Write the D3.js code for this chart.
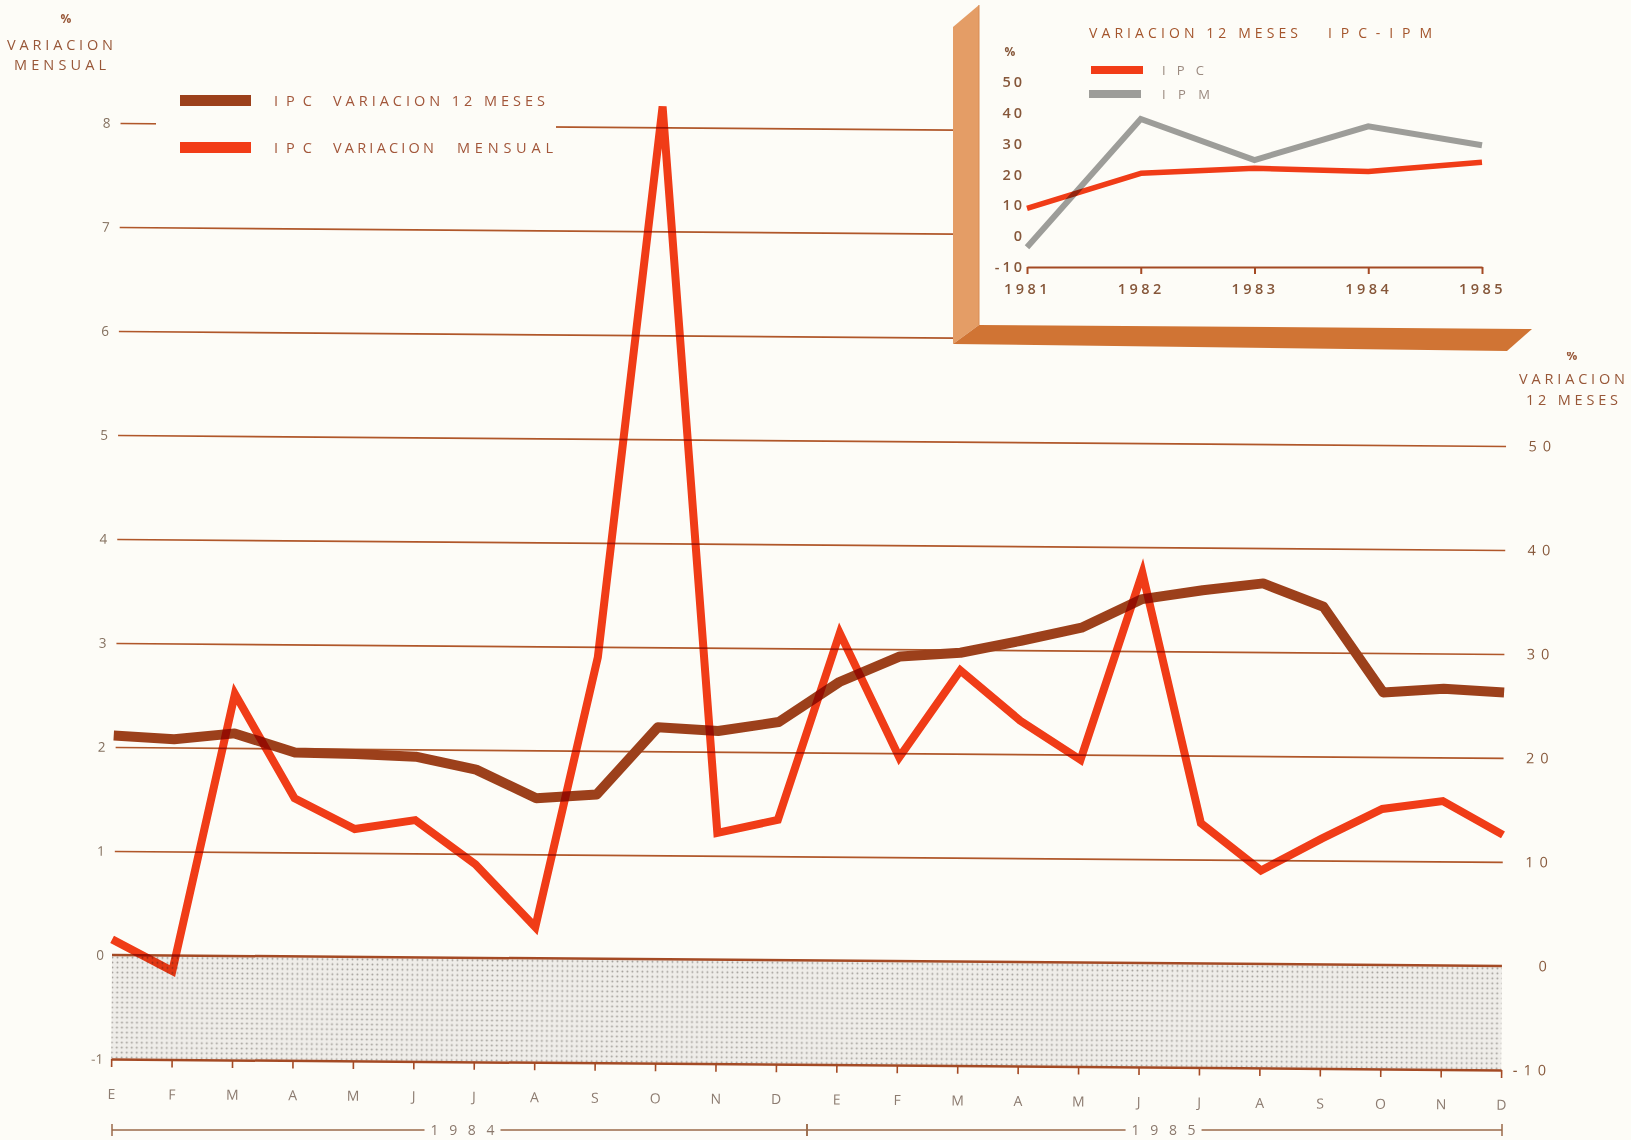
<!DOCTYPE html>
<html><head><meta charset="utf-8">
<script src="https://cdn.jsdelivr.net/npm/d3@7"></script>
<style>
body{margin:0;background:#fdfcf7}
svg{display:block}
text{font-family:"Open Sans",Lato,sans-serif}
</style></head>
<body><svg id="c" width="1631" height="1140"></svg>
<script>
// ---- data ----
const months = ["E","F","M","A","M","J","J","A","S","O","N","D","E","F","M","A","M","J","J","A","S","O","N","D"];
const yearLabels = ["1 9 8 4","1 9 8 5"];
const ipcMensual = [0.15,-0.15,2.52,1.52,1.23,1.32,0.9,0.3,2.9,8.2,1.22,1.35,3.15,1.96,2.8,2.32,1.95,3.75,1.35,0.9,1.21,1.5,1.58,1.26];
const ipc12Meses = [21.1,20.8,21.4,19.6,19.5,19.3,18.1,15.4,15.8,22.3,22.0,22.9,26.8,29.3,29.7,30.9,32.2,35.0,35.9,36.6,34.4,26.2,26.6,26.3];
const leftTicks = [-1,0,1,2,3,4,5,6,7,8];
const rightTicks = [-10,0,10,20,30,40,50];
const insetYears = [1981,1982,1983,1984,1985];
const insetIPC = [9,20.4,22,21,24];
const insetIPM = [-3.6,38,24.7,35.6,29.5];
const insetTicks = [-10,0,10,20,30,40,50];

const BG = "#fdfcf7";
const FONT = "Open Sans";
const RED = "#f23c17", BROWN = "#9c401b", GRID = "#b0572a", AXIS = "#a44a24";
const svg = d3.select("#c");
svg.append("rect").attr("width",1631).attr("height",1140).attr("fill",BG);

const defs = svg.append("defs");
const pat = defs.append("pattern").attr("id","dots").attr("width",5).attr("height",5).attr("patternUnits","userSpaceOnUse");
pat.append("rect").attr("width",5).attr("height",5).attr("fill","#efede9");
pat.append("circle").attr("cx",2.5).attr("cy",2.5).attr("r",0.95).attr("fill","#a19d98");

// ---- main chart ----
const x = d3.scaleLinear().domain([0,23]).range([112,1502]);
const y = d3.scaleLinear().domain([-1,8]).range([1059,123]);
const yR = d3.scaleLinear().domain([-10,80]).range([1059,123]);

const g = svg.append("g").attr("transform","rotate(0.45,112,955)");

g.append("rect").attr("x",x(0)).attr("y",y(0)).attr("width",x(23)-x(0)).attr("height",y(-1)-y(0)).attr("fill","url(#dots)");

const gl = g.append("g").attr("transform","translate(114,0)")
  .call(d3.axisLeft(y).tickValues(leftTicks).tickSize(-(1502-114)).tickPadding(10).tickFormat(d=>String(d)));
gl.select(".domain").remove();
gl.selectAll(".tick line").attr("stroke",GRID).attr("stroke-width",1.6).filter(d=>d<=0).remove();
gl.selectAll(".tick text").attr("fill","#84705f").attr("font-size",13.5).attr("font-family",FONT);

const gr = g.append("g").attr("transform","translate(1553,0)")
  .call(d3.axisRight(yR).tickValues(rightTicks).tickSize(0).tickPadding(0).tickFormat(d=>String(d)));
gr.select(".domain").remove();
gr.selectAll(".tick text").attr("fill","#87593c").attr("font-size",14.5).attr("font-family",FONT)
  .attr("text-anchor","end").attr("letter-spacing",6);

const gb = g.append("g").attr("transform",`translate(0,${y(-1)})`)
  .call(d3.axisBottom(x).tickValues(d3.range(24)).tickSize(8).tickSizeOuter(0).tickPadding(22).tickFormat(i=>months[i]));
gb.select(".domain").attr("stroke",AXIS).attr("stroke-width",2.5);
gb.selectAll(".tick line").attr("stroke",AXIS).attr("stroke-width",1.6);
gb.selectAll(".tick text").attr("fill","#8c7b70").attr("font-size",14).attr("font-family",FONT);

g.append("line").attr("x1",x(0)).attr("x2",x(23)).attr("y1",y(0)).attr("y2",y(0))
  .attr("stroke",AXIS).attr("stroke-width",2.5);

const lineR = d3.line().x((d,i)=>x(i)).y(d=>yR(d));
const lineL = d3.line().x((d,i)=>x(i)).y(d=>y(d));
g.append("path").attr("d",lineR(ipc12Meses)).attr("fill","none").attr("stroke",BROWN)
  .attr("stroke-width",10).attr("stroke-linejoin","round");
g.append("path").attr("d",lineL(ipcMensual)).attr("fill","none").attr("stroke",RED)
  .attr("stroke-width",8).attr("stroke-linejoin","miter").attr("stroke-miterlimit",4)
  .style("mix-blend-mode","multiply");

// ---- year brackets ----
const yb = 1130;
const bc = "#9a6a4a";
const brackets = [[x(0),x(11.5),x(5.8)],[x(11.5),x(23),x(17.4)]];
brackets.forEach((b,i)=>{
  svg.append("text").attr("x",b[2]).attr("y",yb+5).attr("text-anchor","middle")
    .attr("font-size",14).attr("fill","#8a786c").attr("textLength",64).attr("lengthAdjust","spacing").text(yearLabels[i]);
  svg.append("line").attr("x1",b[0]).attr("x2",b[2]-38).attr("y1",yb).attr("y2",yb).attr("stroke",bc).attr("stroke-width",1.5);
  svg.append("line").attr("x1",b[2]+38).attr("x2",b[1]).attr("y1",yb).attr("y2",yb).attr("stroke",bc).attr("stroke-width",1.5);
  svg.append("line").attr("x1",b[0]).attr("x2",b[0]).attr("y1",yb-6).attr("y2",yb+6).attr("stroke",bc).attr("stroke-width",1.5);
  svg.append("line").attr("x1",b[1]).attr("x2",b[1]).attr("y1",yb-6).attr("y2",yb+6).attr("stroke",bc).attr("stroke-width",1.5);
});

// ---- left title ----
const tc = "#985738";
svg.append("text").attr("x",66).attr("y",23).attr("text-anchor","middle").attr("font-size",12).attr("font-weight",700).attr("fill",tc).text("%");
svg.append("text").attr("x",60).attr("y",50).attr("text-anchor","middle").attr("font-size",14.5).attr("font-weight",500).attr("fill",tc)
  .attr("textLength",106).attr("lengthAdjust","spacing").text("VARIACION");
svg.append("text").attr("x",60).attr("y",70).attr("text-anchor","middle").attr("font-size",14.5).attr("font-weight",500).attr("fill",tc)
  .attr("textLength",92).attr("lengthAdjust","spacing").text("MENSUAL");

// ---- right title ----
svg.append("text").attr("x",1572).attr("y",360).attr("text-anchor","middle").attr("font-size",12).attr("font-weight",700).attr("fill",tc).text("%");
svg.append("text").attr("x",1572).attr("y",384).attr("text-anchor","middle").attr("font-size",14.5).attr("font-weight",500).attr("fill",tc)
  .attr("textLength",106).attr("lengthAdjust","spacing").text("VARIACION");
svg.append("text").attr("x",1572).attr("y",405).attr("text-anchor","middle").attr("font-size",14.5).attr("font-weight",500).attr("fill",tc)
  .attr("textLength",92).attr("lengthAdjust","spacing").text("12 MESES");

// ---- legend ----
svg.append("rect").attr("x",156).attr("y",84).attr("width",400).attr("height",82).attr("fill",BG);
const lc = "#a2563a";
svg.append("rect").attr("x",180).attr("y",95).attr("width",71).attr("height",11).attr("fill",BROWN);
svg.append("rect").attr("x",180).attr("y",142).attr("width",71).attr("height",11).attr("fill",RED);
const leg = [
  [274,106,38,"I P C"],[333,106,212,"VARIACION 12 MESES"],
  [274,153,38,"I P C"],[333,153,101,"VARIACION"],[457,153,96,"MENSUAL"]
];
leg.forEach(d=>svg.append("text").attr("x",d[0]).attr("y",d[1]).attr("font-size",14.5).attr("font-weight",500).attr("fill",lc)
  .attr("textLength",d[2]).attr("lengthAdjust","spacing").text(d[3]));

// ---- inset ----
svg.append("rect").attr("x",953).attr("y",0).attr("width",678).attr("height",352).attr("fill",BG);
svg.append("polygon").attr("points",[[953,27],[979,5],[979,325],[953,344]].join(" ")).attr("fill","#e49d66");
svg.append("polygon").attr("points",[[953,344],[979,325],[1532,329],[1507,351]].join(" ")).attr("fill","#d07434");
svg.append("line").attr("x1",979).attr("x2",979).attr("y1",5).attr("y2",325).attr("stroke","#d98a52").attr("stroke-width",1);

const xi = d3.scaleLinear().domain([1981,1985]).range([1027,1482]);
const yi = d3.scaleLinear().domain([-10,50]).range([267,82]);
const ic = "#86573a";

const gia = svg.append("g").attr("transform","translate(0,267)")
  .call(d3.axisBottom(xi).tickValues(insetYears).tickSize(7).tickSizeOuter(0).tickPadding(10).tickFormat(d3.format("d")));
gia.select(".domain").attr("stroke",AXIS).attr("stroke-width",2);
gia.selectAll(".tick line").attr("stroke",AXIS).attr("stroke-width",2);
gia.selectAll(".tick text").attr("fill",ic).attr("font-size",14.5).attr("font-weight",600).attr("font-family",FONT).attr("letter-spacing",3.5);

const giy = svg.append("g").attr("transform","translate(1025,0)")
  .call(d3.axisLeft(yi).tickValues(insetTicks).tickSize(0).tickPadding(0).tickFormat(d=>String(d)));
giy.select(".domain").remove();
giy.selectAll(".tick text").attr("fill",ic).attr("font-size",14.5).attr("font-weight",600).attr("font-family",FONT).attr("letter-spacing",3);

svg.append("text").attr("x",1010).attr("y",56).attr("text-anchor","middle").attr("font-size",12).attr("font-weight",700).attr("fill",ic).text("%");

svg.append("text").attr("x",1089).attr("y",38).attr("font-size",14).attr("font-weight",500).attr("fill","#a4552c")
  .attr("textLength",209).attr("lengthAdjust","spacing").text("VARIACION 12 MESES");
svg.append("text").attr("x",1328).attr("y",38).attr("font-size",14).attr("font-weight",500).attr("fill","#a4552c")
  .attr("textLength",104).attr("lengthAdjust","spacing").text("I P C - I P M");

svg.append("rect").attr("x",1091).attr("y",66).attr("width",52).attr("height",8).attr("fill",RED);
svg.append("rect").attr("x",1089).attr("y",90).attr("width",52).attr("height",8).attr("fill","#9d9d99");
svg.append("text").attr("x",1162).attr("y",75).attr("font-size",13).attr("fill","#9b8a80")
  .attr("textLength",42).attr("lengthAdjust","spacing").text("I P C");
svg.append("text").attr("x",1162).attr("y",99).attr("font-size",13).attr("fill","#9b8a80")
  .attr("textLength",48).attr("lengthAdjust","spacing").text("I P M");

const li = d3.line().x((d,i)=>xi(insetYears[i])).y(d=>yi(d));
svg.append("path").attr("d",li(insetIPM)).attr("fill","none").attr("stroke","#9d9d99").attr("stroke-width",6).attr("stroke-linejoin","miter");
svg.append("path").attr("d",li(insetIPC)).attr("fill","none").attr("stroke",RED).attr("stroke-width",5.5)
  .attr("stroke-linejoin","round").style("mix-blend-mode","multiply");
</script></body></html>
